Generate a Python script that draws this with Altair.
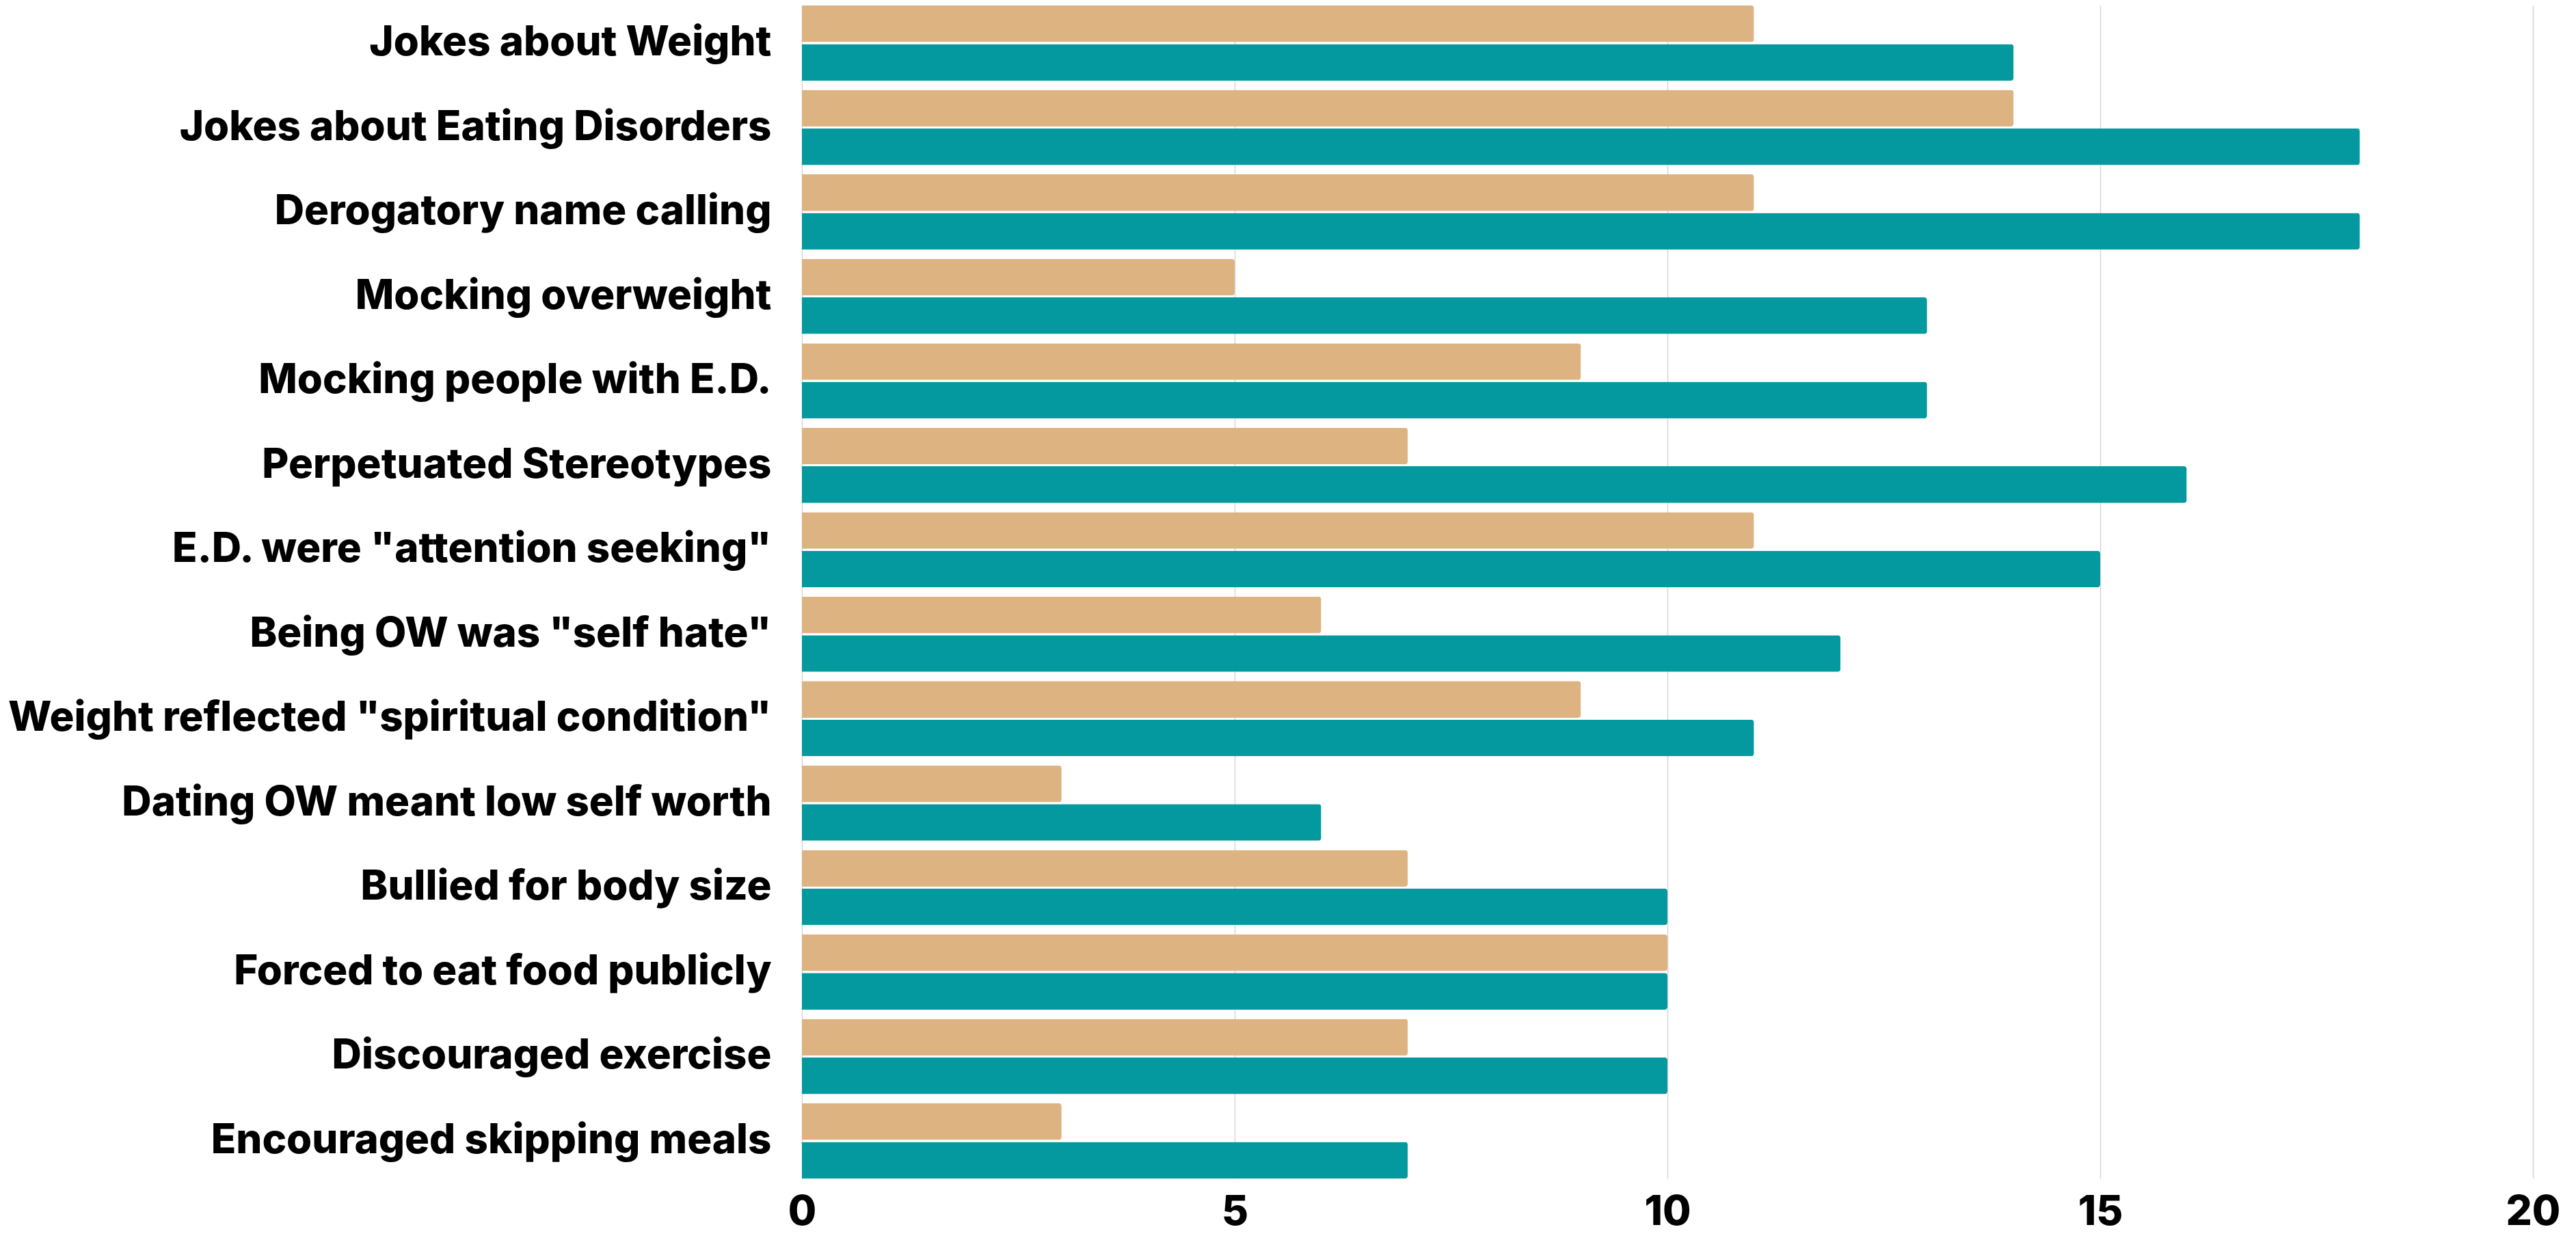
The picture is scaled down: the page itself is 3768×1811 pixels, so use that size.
import altair as alt
import pandas as pd

categories = [
    "Jokes about Weight",
    "Jokes about Eating Disorders",
    "Derogatory name calling",
    "Mocking overweight",
    "Mocking people with E.D.",
    "Perpetuated Stereotypes",
    'E.D. were "attention seeking"',
    'Being OW was "self hate"',
    'Weight reflected "spiritual condition"',
    "Dating OW meant low self worth",
    "Bullied for body size",
    "Forced to eat food publicly",
    "Discouraged exercise",
    "Encouraged skipping meals",
]
series_names = ["Series 1", "Series 2"]
tan_values = [11, 14, 11, 5, 9, 7, 11, 6, 9, 3, 7, 10, 7, 3]
teal_values = [14, 18, 18, 13, 13, 16, 15, 12, 11, 6, 10, 10, 10, 7]
x_ticks = [0, 5, 10, 15, 20]
colors = ["#DDB382", "#04999E"]

rows = []
for c, a, b in zip(categories, tan_values, teal_values):
    rows.append({"category": c, "series": series_names[0], "value": a})
    rows.append({"category": c, "series": series_names[1], "value": b})
df = pd.DataFrame(rows)

FONT = "Inter"

chart = alt.Chart(df).mark_bar(cornerRadiusEnd=4).encode(
    y=alt.Y(
        "category:N",
        sort=categories,
        scale=alt.Scale(paddingInner=0.11, paddingOuter=0),
        axis=alt.Axis(
            title=None, ticks=False, domain=False, grid=False,
            labelFontSize=60, labelFont=FONT, labelFontWeight=800,
            labelColor="#000000", labelPadding=45, labelLimit=1400,
        ),
    ),
    yOffset=alt.YOffset("series:N", sort=series_names, scale=alt.Scale(paddingInner=0.05)),
    x=alt.X(
        "value:Q",
        scale=alt.Scale(domain=[0, 20]),
        axis=alt.Axis(
            values=x_ticks, title=None, ticks=False, domain=False, grid=True,
            gridColor="#d6d6d6", gridWidth=1.5,
            labelFontSize=60, labelFont=FONT, labelFontWeight=800,
            labelColor="#000000", labelPadding=20, labelFlush=False,
        ),
    ),
    color=alt.Color(
        "series:N",
        scale=alt.Scale(domain=series_names, range=colors),
        legend=None,
    ),
).properties(
    width=2532,
    height=1716,
    autosize=alt.AutoSizeParams(type="none"),
    padding={"left": 1165, "top": 0, "right": 55, "bottom": 80},
).configure_view(stroke=None)

chart.save("out.html", embed_options={"renderer": "svg", "actions": False})
